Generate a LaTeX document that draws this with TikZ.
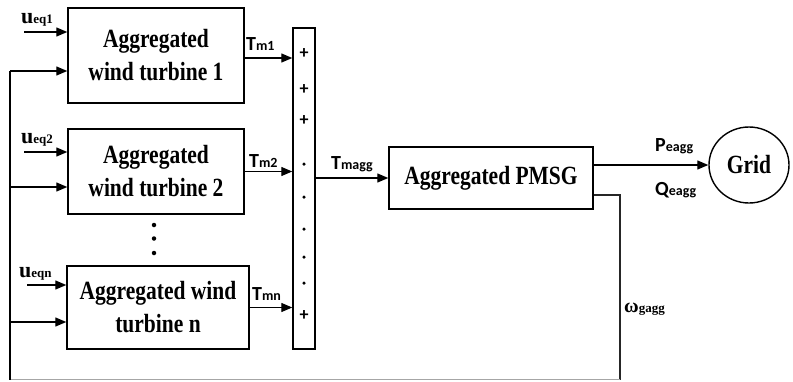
\documentclass[tikz,border=0pt]{standalone}
\usepackage{fontspec}
\setmainfont{Liberation Serif}
\newfontfamily\lblfont{Carlito}
\usetikzlibrary{arrows.meta,shapes.geometric}

% condensed text for the block labels
\newcommand\nar[1]{\scalebox{0.86}[1.05]{#1}}
\newcommand\boxfont{\bfseries\fontsize{25}{33}\selectfont}
% signal labels: large letter followed by a smaller suffix on the same baseline
\newcommand\siglab[2]{{\lblfont\bfseries\fontsize{20}{20}\selectfont #1}{\lblfont\bfseries\fontsize{14}{14}\selectfont #2}}
\newcommand\ulab[1]{{\bfseries\fontsize{22}{22}\selectfont u}{\bfseries\fontsize{13}{13}\selectfont #1}}

\tikzset{
  blk/.style={draw, line width=1.4pt, inner sep=0pt, align=center, font=\boxfont},
  arr/.style={line width=1.3pt, -{Triangle[length=11pt,width=9pt]}},
  wire/.style={line width=1.3pt},
  lbl/.style={anchor=base west, inner sep=0pt},
  sgn/.style={font=\lblfont\bfseries\fontsize{18}{18}\selectfont, inner sep=0pt},
  dot/.style={circle, fill, inner sep=0pt, minimum size=3.5pt},
}

\begin{document}
\begin{tikzpicture}[x=1pt, y=-1pt]
\useasboundingbox (0,0) rectangle (793,381);

% turbine blocks
\node[blk, minimum width=176pt, minimum height=95pt] (b1) at (156,55.5)
  {\nar{Aggregated}\\\nar{wind turbine 1}};
\node[blk, minimum width=176pt, minimum height=85pt] (b2) at (156,171.5)
  {\nar{Aggregated}\\\nar{wind turbine 2}};
\node[blk, minimum width=182pt, minimum height=83pt] (b3) at (158,307.5)
  {\nar{Aggregated wind}\\\nar{turbine n}};

% vertical ellipsis between turbine 2 and turbine n
\node[dot, minimum size=4.5pt] (v1) at (154,225) {};
\node[dot, minimum size=4.5pt] (v2) at (154,238.5) {};
\node[dot, minimum size=4.5pt] (v3) at (154,253) {};

% summing bar
\node[draw, line width=1.4pt, minimum width=22pt, minimum height=321pt, inner sep=0pt] (bar) at (304,188.5) {};
\node[sgn] (p1) at (304,54) {+};
\node[sgn] (p2) at (304,90) {+};
\node[sgn] (p3) at (304,121) {+};
\node[dot] (d1) at (304,164) {};
\node[dot] (d2) at (304,197) {};
\node[dot] (d3) at (304,229) {};
\node[dot] (d4) at (304,257) {};
\node[dot] (d5) at (304,283) {};
\node[sgn] (p4) at (304,316) {+};

% generator and grid
\node[blk, minimum width=204pt, minimum height=62pt] (pmsg) at (491,178) {\nar{Aggregated PMSG}};
\node[draw, ellipse, line width=1.4pt, minimum width=80pt, minimum height=76pt, inner sep=0pt,
      font=\boxfont] (grid) at (749,165) {\nar{Grid}};

% wind speed inputs
\coordinate (u1s) at (24,32);
\coordinate (u2s) at (24,152);
\coordinate (u3s) at (27,285);
\draw[arr] (u1s) -- (b1.west |- u1s);
\draw[arr] (u2s) -- (b2.west |- u2s);
\draw[arr] (u3s) -- (b3.west |- u3s);
\node[lbl] (lu1) at (21,23) {\ulab{eq1}};
\node[lbl] (lu2) at (21,143) {\ulab{eq2}};
\node[lbl] (lu3) at (19,277) {\ulab{eqn}};

% torque outputs into the summing bar
\coordinate (t1) at (244,58);
\draw[arr] (t1) -- (bar.west |- t1);
\draw[arr] (b2.east) -- (bar.west |- b2.east);
\draw[arr] (b3.east) -- (bar.west |- b3.east);
\node[lbl] (lt1) at (246,50) {\siglab{T}{m1}};
\node[lbl] (lt2) at (249,167) {\siglab{T}{m2}};
\node[lbl] (lt3) at (252,300) {\siglab{T}{mn}};

% summed torque into the generator
\draw[arr] (bar.east |- pmsg.west) -- (pmsg.west);
\node[lbl] (ltm) at (331,169) {\siglab{T}{magg}};

% power to the grid
\draw[arr] (pmsg.east |- grid.west) -- (grid.west);
\node[lbl] (lp) at (655,151) {\siglab{P}{eagg}};
\node[lbl] (lq) at (655,195) {\siglab{Q}{eagg}};

% speed feedback loop
\coordinate (fa) at (620,195);
\coordinate (fb) at (620,379.5);
\coordinate (fc) at (10,379.5);
\coordinate (fd) at (10,71);
\coordinate (f2) at (10,187);
\coordinate (f3) at (10,322);
\draw[wire, black!85] (pmsg.east |- fa) -- (fa) -- (fb);
\draw[line width=1pt, black!35] (fb) -- (fc);
\draw[wire] (fc) -- (fd);
\draw[arr] (fd) -- (b1.west |- fd);
\draw[arr] (f2) -- (b2.west |- f2);
\draw[arr] (f3) -- (b3.west |- f3);
\node[lbl] (lw) at (624,312)
  {{\bfseries\fontsize{20}{20}\selectfont ω}{\bfseries\fontsize{13}{13}\selectfont gagg}};
\end{tikzpicture}
\end{document}
